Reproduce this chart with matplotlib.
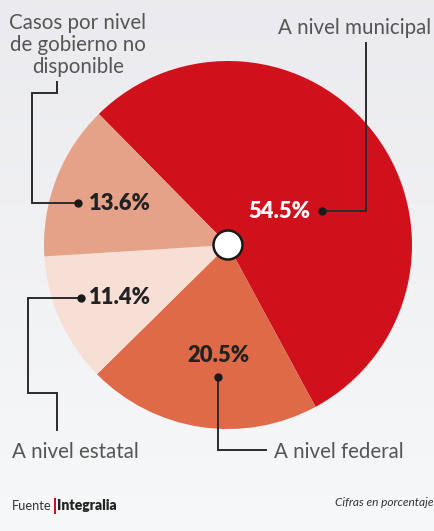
import numpy as np
import matplotlib.pyplot as plt
from matplotlib.patches import Circle, Rectangle

plt.rcParams['font.family'] = ['Lato', 'DejaVu Sans']

# data
categorias = ['A nivel municipal', 'A nivel federal', 'A nivel estatal',
              'Casos por nivel\nde gobierno no\ndisponible']
valores = [54.5, 20.5, 11.4, 13.6]
etiquetas = ['54.5%', '20.5%', '11.4%', '13.6%']
colores = ['#d0111c', '#df6a47', '#f8dfd6', '#e6a288']

W, H = 435, 531
fig = plt.figure(figsize=(W / 100, H / 100), dpi=100)
ax = fig.add_axes([0, 0, 1, 1])

def Y(y):
    # pixel row (from top) -> data y
    return H - y

# background gradient
grad = np.linspace(0, 1, 256).reshape(-1, 1)
top = np.array([0.922, 0.922, 0.937])
bot = np.array([0.968, 0.972, 0.975])
img = top + (bot - top) * grad[..., None]
img = img.reshape(256, 1, 3)
ax.imshow(img, extent=[0, W, 0, H], aspect='auto', zorder=0)

cx, cy, r = 228, Y(245), 184
ax.pie(valores, colors=colores, startangle=134.6, counterclock=False,
       center=(cx, cy), radius=r, wedgeprops=dict(linewidth=0), frame=True)
ax.add_patch(Circle((cx, cy), 14.5, facecolor='white', edgecolor='#1a1a1a',
                    lw=1.8, zorder=5))

lc = '#2b2b2b'
dk = '#222222'
grey = '#555555'
pfs = 15.8   # percent label size
cfs = 14.8   # category label size

def leader(pts, dot):
    xs = [p[0] for p in pts]
    ys = [Y(p[1]) for p in pts]
    ax.plot(xs, ys, color=lc, lw=1.4, solid_joinstyle='miter', zorder=4)
    ax.plot(dot[0], Y(dot[1]), 'o', color='#1a1a1a', ms=5, zorder=4)

# 54.5 municipal
ax.text(279, Y(212), etiquetas[0], color='white', fontsize=pfs,
        fontweight='heavy', ha='center', va='center', zorder=6)
leader([(322, 211), (366, 211), (366, 43)], (322, 211))
ax.text(355, Y(28), categorias[0], color=grey, fontsize=cfs,
        ha='center', va='center')

# 20.5 federal
ax.text(218, Y(355), etiquetas[1], color=dk, fontsize=pfs,
        fontweight='heavy', ha='center', va='center', zorder=6)
leader([(218, 377), (218, 450), (266, 450)], (218, 377))
ax.text(274, Y(452), categorias[1], color=grey, fontsize=cfs,
        ha='left', va='center')

# 11.4 estatal
ax.text(120, Y(298), etiquetas[2], color=dk, fontsize=pfs,
        fontweight='heavy', ha='center', va='center', zorder=6)
leader([(81, 298), (28, 298), (28, 393), (57, 393), (57, 430)], (81, 298))
ax.text(12, Y(452), categorias[2], color=grey, fontsize=cfs,
        ha='left', va='center')

# 13.6 no disponible
ax.text(120, Y(203), etiquetas[3], color=dk, fontsize=pfs,
        fontweight='heavy', ha='center', va='center', zorder=6)
leader([(78, 203), (32, 203), (32, 93), (57, 93), (57, 82)], (78, 203))
ax.text(78, Y(45), categorias[3], color=grey, fontsize=cfs,
        ha='center', va='center', linespacing=1.15)

# footer
ax.text(12, Y(506), 'Fuente', color='#333333', fontsize=9.3, ha='left', va='center')
ax.add_patch(Rectangle((54.5, Y(514)), 2, 16, color='#d0111c', lw=0))
ax.text(57.5, Y(506), 'Integralia', color='#222222', fontsize=10,
        fontweight='heavy', ha='left', va='center')
ax.text(434, Y(503), 'Cifras en porcentaje', color='#333333', fontsize=8.6,
        style='italic', ha='right', va='center')

ax.set_xlim(0, W)
ax.set_ylim(0, H)
ax.set_aspect('auto')
ax.axis('off')

fig.savefig('out.png', dpi=100)
plt.close()
